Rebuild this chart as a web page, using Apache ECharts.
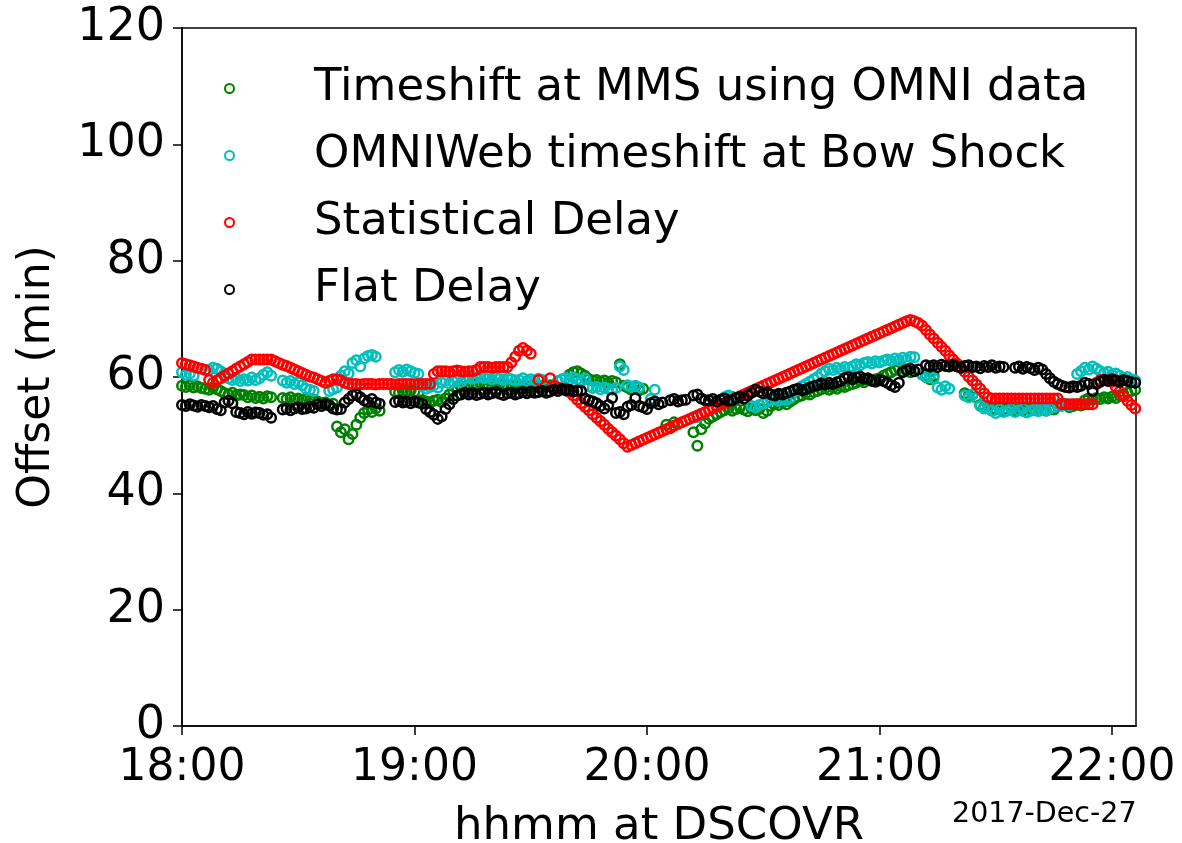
<!DOCTYPE html>
<html>
<head>
<meta charset="utf-8">
<title>Offset vs time at DSCOVR</title>
<script src="https://cdn.jsdelivr.net/npm/echarts@6/dist/echarts.min.js"></script>
<style>
  html, body { margin: 0; padding: 0; background: #ffffff; }
  #chart { width: 1182px; height: 843px; }
</style>
</head>
<body>
<div id="chart"></div>
<script>
// Axis ticks: minutes after 18:00 and their labels
const tickMinutes = [0, 60, 120, 180, 240];
const tickLabels = ['18:00', '19:00', '20:00', '21:00', '22:00'];
const yTicks = [0, 20, 40, 60, 80, 100, 120];

const seriesNames = [
  'Timeshift at MMS using OMNI data',
  'OMNIWeb timeshift at Bow Shock',
  'Statistical Delay',
  'Flat Delay'
];

// Each series is a list of runs: [first minute after 18:00, one value (min) per minute]
const mmsTimeshift = [
  [0, [58.5, 58.3, 58.6, 58.2, 58.4, 58.1, 58.0, 57.8, 58.2, 57.9, 57.6, 57.2, 57.0, 57.3, 56.8, 57.0, 56.9, 56.5, 56.8, 56.4, 56.6, 56.3, 56.7, 56.5]],
  [26, [56.4, 56.2, 56.5, 56.1, 56.3, 56.0, 56.2, 55.9, 56.1, 55.8, 55.5, 55.6, 55.2, 55.4, 51.5, 50.5, 51.0, 49.3, 50.2, 51.8, 53.0, 53.8, 54.4, 54.0, 54.6, 54.2]],
  [55, [57.5, 57.3, 57.6, 57.4, 57.7, 57.5, 57.2, 56.0, 55.8, 55.6, 55.9, 56.1, 55.7, 56.3, 57.0, 57.6, 58.2, 58.4, 58.3, 58.6, 58.8, 58.7, 59.0, 58.9, 58.7, 58.8, 58.6, 58.9, 58.7, 58.5, 58.4, 58.6, 58.3, 58.5, 58.2, 58.4, 58.6, 58.3, 58.5, 58.4, 58.6]],
  [100, [60.4, 60.8, 61.0, 60.6, 60.2, 59.6, 59.4, 59.5, 59.2, 59.4, 59.0, 59.3, 59.1, 62.2, 58.5, 58.2, 57.8, 58.3, 57.7, 58.0]],
  [125, [51.8, 51.2, 52.2]],
  [132, [50.5, 48.2, 51.0, 52.0, 52.8, 53.2, 53.6, 54.0, 54.3, 54.6, 54.2, 54.5, 54.8, 54.4, 54.1, 54.6, 54.3, 54.5, 53.8, 54.2, 55.0, 55.4, 55.2, 55.6, 55.3, 55.8, 56.2, 56.6, 56.8, 57.2, 57.0, 57.4, 57.6, 57.9, 58.1, 57.8, 58.2, 58.0, 58.4, 58.3, 58.6, 58.8, 59.0, 59.3, 59.1, 59.5, 59.3, 59.6, 59.8, 60.2, 60.5, 60.8, 61.2, 61.5, 61.0, 61.4, 60.8]],
  [191, [60.5, 60.0, 59.6, 60.2]],
  [202, [57.2, 56.8, 57.0, 56.5, 55.2, 54.8, 55.0, 54.6, 54.4, 54.8, 54.2, 54.5, 54.6, 54.3, 54.5, 54.2, 54.6, 54.4, 54.3, 54.7, 54.5, 54.2, 54.6, 54.4, 55.0, 55.4, 55.2, 54.8, 55.0, 55.3, 55.1, 56.0, 56.3, 56.1, 56.4, 56.2, 56.5, 56.3, 56.6, 56.4, 56.8, 57.0, 57.3, 57.6, 57.8]]
];

const omniBowShock = [
  [0, [60.8, 60.4, 60.6, 60.2]],
  [7, [61.2, 61.6, 61.4, 61.0, 60.6, 59.8, 59.5, 59.7, 59.3, 59.6, 59.4, 59.9, 59.5, 59.8, 60.4, 60.8, 60.2]],
  [26, [59.4, 59.0, 59.3, 58.8, 59.1, 58.6, 58.0, 57.8, 57.6]],
  [38, [57.6, 57.9, 58.2, 60.2, 61.0, 60.6, 62.4, 62.9, 61.8, 63.2, 63.6, 63.8, 63.5]],
  [55, [60.8, 61.2, 60.9, 61.3, 61.0, 60.7, 60.5, 58.4, 58.0, 58.3, 58.6, 58.2, 59.0, 59.3, 58.9, 59.2, 59.5, 59.1, 59.8, 60.0, 59.7, 59.9, 60.1, 59.8, 60.0, 59.6, 59.9, 59.7, 59.5, 59.8, 59.6, 59.4, 59.5, 59.8, 59.3, 59.6, 59.4, 59.7, 59.5]],
  [97, [59.3, 59.6, 59.8, 59.5, 59.9, 59.6, 59.4, 59.7, 58.4, 58.1, 58.3, 57.9, 58.2, 58.0, 57.8, 58.1, 61.8, 61.2, 58.6, 58.3, 58.5, 58.2]],
  [121, [56.2, 57.8]],
  [133, [53.1]],
  [140, [56.5, 56.8, 56.6]],
  [147, [55.0, 54.8, 55.2, 55.4, 55.8, 56.0, 56.2, 55.9, 56.3, 56.1, 56.4, 57.5, 58.0, 58.4, 58.8, 59.2, 59.6, 60.0, 60.6, 61.0, 61.4, 61.2, 61.6, 61.3, 61.7, 61.5, 61.8, 62.2, 62.0, 62.4, 62.6, 62.3, 62.7, 62.5, 62.8, 63.0, 62.8, 63.2, 62.9, 63.3, 63.0, 63.5, 63.4]],
  [191, [60.4, 60.0, 60.3, 59.8, 58.2, 57.8, 58.4, 58.0]],
  [202, [56.8, 56.5, 57.0, 56.4, 55.0, 54.6, 54.8, 54.2, 53.8, 54.4, 54.0, 54.2, 54.5, 54.0, 54.3, 54.6, 53.9, 54.2, 54.4, 54.1, 54.5, 54.3, 54.6, 54.8, 55.2, 55.0, 55.4, 55.1, 55.3, 60.5, 61.0, 61.6, 61.3, 61.8, 61.4, 61.0, 60.7, 60.9, 60.4, 60.6, 60.2, 59.8, 60.0, 59.6, 59.4]]
];

const statisticalDelay = [
  [0, [62.4, 62.2, 62.0, 61.8, 61.6, 61.4, 61.2, 59.5, 59.0, 59.4, 59.8, 60.2, 60.6, 61.0, 61.4, 61.8, 62.2, 62.6, 63.0, 63.0, 63.0, 63.0, 63.0, 63.0,
       62.7, 62.4, 62.1, 61.9, 61.6, 61.3, 61.0, 60.7, 60.4, 60.1, 59.9, 59.6, 59.3, 59.0, 59.3, 59.6, 59.6, 59.4, 59.0, 58.8,
       58.8, 58.8, 58.7, 58.8, 58.8, 58.8, 58.7, 58.8, 58.8, 58.8, 58.8, 58.7, 58.8, 58.8, 58.8, 58.8, 58.7, 58.8, 58.8, 58.8, 58.8,
       60.5, 61.0, 61.0, 61.0, 60.9, 61.0, 61.1, 61.0, 60.9, 61.0, 61.0, 61.2,
       61.7, 61.7, 61.7, 61.6, 61.7, 61.7, 61.7, 61.7, 62.5, 63.5, 64.5, 65.0, 64.5, 64.0]],
  [92, [59.5]],
  [95, [59.8, 58.5, 58.2, 58.0, 58.0,
        57.4, 56.8, 56.1, 55.5, 54.9, 54.3, 53.6, 53.0, 52.4, 51.8, 51.1, 50.5, 49.9, 49.3, 48.6, 48.0,
        48.3, 48.6, 48.9, 49.2, 49.5, 49.8, 50.1, 50.4, 50.7, 51.0, 51.3, 51.6, 51.9, 52.2, 52.5, 52.8, 53.1, 53.4, 53.7, 54.0,
        54.3, 54.6, 54.9, 55.2, 55.5, 55.8, 56.1, 56.4, 56.7, 57.0, 57.3, 57.6, 57.9, 58.2, 58.5, 58.8, 59.1, 59.4, 59.7, 60.0,
        60.3, 60.6, 60.9, 61.2, 61.5, 61.8, 62.1, 62.4, 62.7, 63.0, 63.3, 63.6, 63.9, 64.2, 64.5, 64.8, 65.1, 65.4, 65.7, 66.0,
        66.3, 66.6, 66.9, 67.2, 67.5, 67.8, 68.1, 68.4, 68.7, 69.0, 69.3, 69.6, 69.8, 69.6, 69.3,
        68.8, 68.1, 67.3, 66.6, 65.9, 65.2, 64.5, 63.7, 63.0, 62.3, 61.6, 60.9, 60.1, 59.4, 58.7, 58.0, 57.2, 56.5,
        56.3, 56.3, 56.3, 56.3, 56.3, 56.3, 56.3, 56.3, 56.3, 56.3, 56.3, 56.3, 56.3, 56.3, 56.3, 56.3, 56.3, 56.3,
        55.3, 55.3, 55.3, 55.3, 55.3, 55.3, 55.3, 55.3, 55.3,
        59.0, 59.5, 59.5, 59.4, 59.2, 58.3, 57.5, 56.7, 55.9, 55.2, 54.6]]
];

const flatDelay = [
  [0, [55.2, 55.0, 55.3, 55.1, 54.9, 55.2, 55.0, 54.8, 55.0, 54.5, 54.3, 55.6, 55.9, 55.5, 54.0, 53.8, 53.6, 54.0, 53.7, 53.9, 53.8, 53.5, 53.6, 53.0]],
  [26, [54.4, 54.6, 54.3, 54.6, 54.8, 54.5, 54.6, 54.9, 54.7, 55.3, 55.0, 55.3, 55.1, 54.6, 54.4, 54.5, 55.6, 56.2, 56.8, 57.0, 56.5, 56.0, 55.7, 56.2, 55.6, 55.4]],
  [55, [55.7, 55.9, 55.6, 55.8, 55.5, 55.8, 55.6, 55.4, 54.5, 54.0, 53.5, 52.8, 53.2, 54.5, 55.3, 56.2, 56.8, 57.0, 57.3, 57.0, 57.2, 56.9, 57.1, 57.3, 57.0, 57.2, 57.4, 57.1, 56.9, 57.2, 57.3, 57.0, 57.2, 57.4, 57.2, 57.5, 57.3, 57.4, 57.6, 57.3, 57.5, 57.8, 57.6, 57.9, 57.7, 57.8, 57.5, 57.7, 57.6, 56.3, 56.0, 55.8, 55.5, 55.0, 54.6, 55.2, 56.4, 53.8, 54.0, 53.6, 54.9, 55.2, 56.4, 55.0, 54.8, 54.5, 55.5, 55.8, 55.3, 55.6]],
  [126, [56.0, 56.2, 55.8, 56.0, 56.1]],
  [132, [56.8, 57.0, 56.3, 56.0, 56.0, 56.2, 55.8, 56.1, 56.3, 55.9, 56.0, 56.4, 56.6, 56.3, 56.8, 57.3, 57.8, 57.5, 57.2, 57.4, 57.0, 56.8, 57.1, 57.0, 57.3, 57.5, 57.8, 58.0, 57.7, 57.9, 58.2, 58.4, 58.6, 58.9, 58.7, 59.0, 58.8, 59.1, 59.3, 59.8, 60.0, 59.6, 59.9, 60.1, 59.7, 59.8, 59.4, 59.2, 59.5, 59.3, 59.0, 58.6, 58.3, 59.0, 60.8, 61.2, 61.4, 61.0, 61.3]],
  [192, [62.0, 61.8, 62.0, 61.7, 62.1, 61.9, 61.8, 62.0, 61.8, 61.6, 61.9, 62.0, 61.7, 61.8, 61.5, 61.9, 61.7, 62.0, 61.6, 61.8, 61.7]],
  [215, [61.6, 61.8, 61.4, 61.7, 61.5, 61.2, 61.6, 61.3, 60.5, 59.8, 59.2, 58.8, 58.5, 58.3, 58.2, 58.4, 58.3, 58.5, 59.0, 58.8, 57.6, 58.8, 59.2, 59.5, 59.3, 59.6, 59.4, 59.2, 59.5, 59.3, 59.1, 59.0]]
];

const seriesColors = ['#008000', '#00bfbf', '#ff0000', '#000000'];
const FONT = 'DejaVu Sans';

// expand runs into [minute, value] points
function toPoints(runs) {
  const pts = [];
  runs.forEach(([start, vals]) => {
    vals.forEach((v, i) => pts.push([start + i, v]));
  });
  return pts;
}

const allSeries = [mmsTimeshift, omniBowShock, statisticalDelay, flatDelay];

const chart = echarts.init(document.getElementById('chart'), null, { renderer: 'canvas' });

chart.setOption({
  animation: false,
  backgroundColor: '#ffffff',
  grid: {
    left: 182, right: 46, top: 28, bottom: 117,
    outerBoundsMode: 'none',
    containLabel: false,
    show: true, borderColor: '#000000', borderWidth: 1.5, backgroundColor: 'transparent'
  },
  legend: {
    orient: 'vertical',
    left: 224, top: 66,
    padding: 0,
    itemWidth: 9, itemHeight: 9,
    itemGap: 22,
    icon: 'circle',
    data: seriesNames,
    textStyle: {
      fontFamily: FONT, fontSize: 45, color: '#000000',
      lineHeight: 45, padding: [0, 0, 0, 75]
    }
  },
  xAxis: {
    type: 'value',
    min: 0, max: 246.2,
    name: 'hhmm at DSCOVR',
    nameLocation: 'middle',
    nameGap: 79,
    nameTextStyle: { fontFamily: FONT, fontSize: 45, color: '#000000' },
    axisLine: { show: true, onZero: false, lineStyle: { color: '#000000', width: 1.5 } },
    axisTick: { show: true, length: 9, customValues: tickMinutes, lineStyle: { color: '#000000', width: 1.5 } },
    axisLabel: {
      customValues: tickMinutes,
      formatter: v => tickLabels[tickMinutes.indexOf(v)] || '',
      fontFamily: FONT, fontSize: 44, color: '#000000', margin: 21
    },
    splitLine: { show: false }
  },
  yAxis: {
    type: 'value',
    min: 0, max: 120, interval: 20,
    name: 'Offset (min)',
    nameLocation: 'middle',
    nameGap: 122,
    nameRotate: 90,
    nameTextStyle: { fontFamily: FONT, fontSize: 44, color: '#000000' },
    axisLine: { show: true, lineStyle: { color: '#000000', width: 1.5 } },
    axisTick: { show: true, length: 9, lineStyle: { color: '#000000', width: 1.5 } },
    axisLabel: {
      formatter: v => (yTicks.includes(v) ? String(v) : ''),
      fontFamily: FONT, fontSize: 46, color: '#000000', margin: 17
    },
    splitLine: { show: false }
  },
  graphic: [{
    type: 'text',
    left: 952, top: 800,
    style: { text: '2017-Dec-27', fontFamily: FONT, fontSize: 28.5, fill: '#000000' }
  }],
  series: allSeries.map((runs, k) => ({
    name: seriesNames[k],
    type: 'scatter',
    symbol: 'circle',
    symbolSize: 9.5,
    data: toPoints(runs),
    itemStyle: { color: 'rgba(255,255,255,0)', borderColor: seriesColors[k], borderWidth: 2.5, opacity: 1 },
    emphasis: { disabled: true }
  }))
});
</script>
</body>
</html>
